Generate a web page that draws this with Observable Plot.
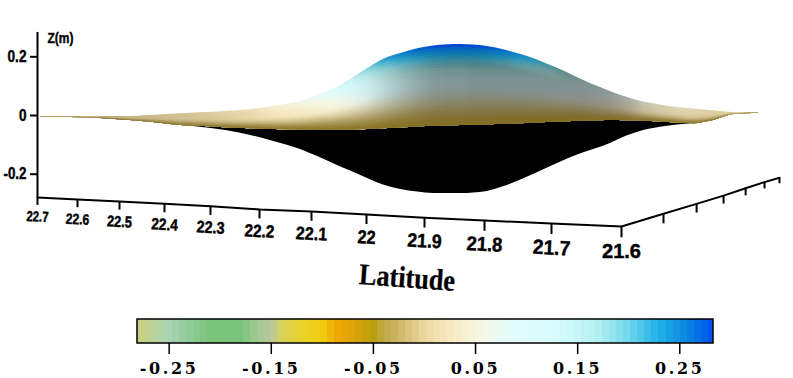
<!DOCTYPE html>
<html>
<head>
<meta charset="utf-8">
<style>
html,body{margin:0;padding:0;background:#fff;width:793px;overflow:hidden}
svg{display:block;background:#fff}
</style>
<script src="https://cdn.jsdelivr.net/npm/d3@7"></script>
<script src="https://cdn.jsdelivr.net/npm/@observablehq/plot@0.6"></script>
</head>
<body>
<div id="chart"></div>
<div id="bar"></div>
<script>
// Latitude ticks and where the perspective puts them
const latTicks = [22.7,22.6,22.5,22.4,22.3,22.2,22.1,22,21.9,21.8,21.7,21.6];
const floorZ  = [-.279,-.286,-.293,-.301,-.309,-.320,-.327,-.337,-.348,-.358,-.368,-.378];
// Depth axis (longitude, unlabelled), in the same projected plane
const depthLat = [21.6,21.4535,21.338,21.244,21.167,21.101,21.049];
const depthZ   = [-.378,-.335,-.301,-.273,-.248,-.227,-.212];
const zTicks = [0.2,0,-0.2];
const zLabels = ["0.2","0","-0.2"];

// Projected surface profile
const surfLat = [22.6925,22.6175,22.545,22.476,22.409,22.365,22.322,22.269,22.218,22.169,22.121,22.089,22.06,22.029,21.998,21.971,21.941,21.912,21.885,21.862,21.84,21.818,21.796,21.773,21.751,21.727,21.701,21.677,21.654,21.63,21.616,21.579,21.523,21.464,21.405,21.349,21.29,21.209,21.122];
const surfTop = [-.003,-.003,-.003,-.003,.002,.006,.009,.014,.020,.032,.048,.068,.090,.123,.160,.191,.211,.227,.237,.241,.242,.240,.235,.225,.211,.194,.170,.146,.119,.095,.082,.061,.046,.036,.027,.022,.017,.010,.009];
const surfFront = [-.005,-.007,-.010,-.017,-.026,-.034,-.037,-.042,-.045,-.048,-.049,-.049,-.049,-.049,-.048,-.045,-.042,-.039,-.036,-.035,-.034,-.033,-.032,-.030,-.028,-.026,-.023,-.021,-.019,-.018,-.017,-.018,-.019,-.022,-.025,-.028,-.020,.003,.008];
const surfBottom = [-.005,-.007,-.010,-.017,-.026,-.034,-.040,-.051,-.068,-.090,-.116,-.140,-.164,-.189,-.215,-.237,-.252,-.261,-.266,-.266,-.266,-.264,-.259,-.244,-.225,-.201,-.174,-.148,-.127,-.108,-.095,-.069,-.051,-.040,-.032,-.028,-.020,.003,.008];
const surfLit = [.84,.84,.84,.85,.86,.88,.9,.93,.96,1,1,1,1,.98,.94,.86,.76,.68,.62,.6,.6,.58,.58,.58,.58,.58,.58,.58,.58,.6,.62,.68,.8,.86,.9,.92,.92,.92,.92];

// Colour bar
const barTicks = [-0.25,-0.15,-0.05,0.05,0.15,0.25];
const barTickLabels = ["-0.25","-0.15","-0.05","0.05","0.15","0.25"];
const barStops = [-.281,-.265,-.25,-.23,-.21,-.18,-.165,-.15,-.14,-.12,-.10,-.085,-.07,-.05,-.04,-.02,0,.03,.06,.09,.13,.17,.2,.23,.26,.283];
const barColors = ["#cdd07c","#bcd29a","#a8d4b4","#90cc98","#7cc47c","#78c47c","#a0c890","#b4c8a0","#d8d060","#e8d428","#f0cc10","#f0a800","#e0a408","#b8a010","#c0a848","#d4bc70","#ecd8a0","#f8ecc8","#f4f8e8","#e0fcfc","#d8fcfc","#b4f0f0","#70d8ec","#20b0e8","#0880e0","#0050f0"];
const palette = d3.scaleLinear().domain(barStops).range(barColors).clamp(true);

const PX = 293.5; // px per metre on the z axis
const sans = "'Liberation Sans',Arial,sans-serif";
const olive = d3.rgb("#86701c");
const idx = surfLat.map((_, i) => i);

// Perspective foreshortening of the latitude axis
const persp = d3.scaleLinear()
  .domain([22.7925, ...latTicks, 21])
  .range([0,37,77,119,164,210,259,311,366,424,484,551,621,793]);

function shade(i, f) {
  const zt = surfTop[i];
  const boost = 1 + .2 * Math.max(0, 1 - f / .35);
  const c = d3.rgb(palette(zt * (1 - f) * boost));
  const w = Math.min(1, Math.max(0, (zt - .15) / .06));
  let L = surfLit[i] + (.9 - surfLit[i]) * w * Math.max(0, 1 - f / .25);
  if (f > .5) L *= 1 - .25 * ((f - .5) / .5) ** 2;
  const span = .55 + .45 * Math.min(1, (zt - surfFront[i]) / .06);
  const m = f > .45 ? ((f - .45) / .55) ** 1.7 * .92 * span : 0;
  return d3.rgb(
    c.r * L * (1 - m) + olive.r * m,
    c.g * L * (1 - m) + olive.g * m,
    c.b * L * (1 - m) + olive.b * m
  ).formatRgb();
}

const bandLevels = d3.range(0, 28).map(k => k / 28);

const gradients = () => {
  const defs = d3.create("svg:defs");
  bandLevels.forEach((f, k) => {
    const g = defs.append("linearGradient")
      .attr("id", "band" + k)
      .attr("gradientUnits", "userSpaceOnUse")
      .attr("x1", 0).attr("x2", 793).attr("y1", 0).attr("y2", 0);
    idx.forEach(i => {
      g.append("stop")
        .attr("offset", persp(surfLat[i]) / 793)
        .attr("stop-color", shade(i, f + .5 / 28));
    });
  });
  return defs.node();
};

// Squeeze condensed axis lettering to the width seen in the picture
const squeeze = width => (index, scales, values, dims, context, next) => {
  const g = next(index, scales, values, dims, context);
  d3.select(g).selectAll("text")
    .attr("textLength", (d, j) => width(index[j]))
    .attr("lengthAdjust", "spacingAndGlyphs");
  return g;
};
const latLabelWidths = i => latTicks[i] === 22 ? 18 : 22 + i * 1.55;
const zLabelWidths = i => [19, 7.5, 23][i];

const chart = Plot.plot({
  width: 793, height: 312,
  marginTop: 0, marginRight: 0, marginBottom: 0, marginLeft: 0,
  x: {axis: null, transform: persp, domain: [0,793], range: [0,793]},
  y: {axis: null, domain: [-.6712,.3918], range: [312,0]},
  marks: [
    gradients,
    // axes
    Plot.ruleX([22.7], {y1: -.279, y2: .283, stroke: "#000", strokeWidth: 2}),
    Plot.ruleY(zTicks, {x1: 22.7175, x2: 22.7, stroke: "#000", strokeWidth: 2}),
    Plot.text(zLabels, {x: 22.7175, y: (d, i) => zTicks[i], text: d => d, textAnchor: "end", dx: -4,
      fontFamily: sans, fontWeight: "bold", fontSize: 16, fill: "#000", stroke: "#000", strokeWidth: .4, render: squeeze(zLabelWidths)}),
    Plot.text(["Z(m)"], {x: 22.675, y: .262, textAnchor: "start", text: d => d,
      fontFamily: sans, fontWeight: "bold", fontSize: 15, fill: "#000", stroke: "#000", strokeWidth: .4, render: squeeze(() => 26)}),
    Plot.line(latTicks, {x: d => d, y: (d, i) => floorZ[i], stroke: "#000", strokeWidth: 2}),
    Plot.ruleX(latTicks, {x: d => d, y1: (d, i) => floorZ[i], y2: (d, i) => floorZ[i] - (8 + i * .3) / PX, stroke: "#000", strokeWidth: 2}),
    Plot.text(latTicks, {x: d => d, y: (d, i) => floorZ[i] - (19.5 + i * .5) / PX, text: d => String(d),
      rotate: (d, i) => i < 11 ? 3 : 0,
      fontSize: (d, i) => 14.5 + i * .6,
      fontFamily: sans, fontWeight: "bold", fill: "#000", stroke: "#000", strokeWidth: .45, render: squeeze(latLabelWidths)}),
    Plot.line(depthLat, {x: d => d, y: (d, i) => depthZ[i], stroke: "#000", strokeWidth: 2}),
    Plot.ruleX(depthLat.slice(1), {x: d => d, y1: (d, i) => depthZ[i + 1], y2: (d, i) => depthZ[i + 1] - (10 - i * .8) / PX, stroke: "#000", strokeWidth: 2}),
    Plot.text(["Latitude"], {x: 21.93, y: -.553, text: d => d, rotate: 4,
      fontFamily: "'Liberation Serif','Times New Roman',serif", fontWeight: "bold", fontSize: 30, fill: "#000", stroke: "#000", strokeWidth: .3, render: squeeze(() => 96)}),
    // surface
    Plot.area(idx, {x1: i => surfLat[i], y1: i => surfFront[i], y2: i => surfBottom[i], fill: "#000", curve: "monotone-x"}),
    ...bandLevels.map((f, k) => Plot.area(idx, {
      x1: i => surfLat[i],
      y1: i => surfTop[i] + (surfFront[i] - surfTop[i]) * f,
      y2: i => surfFront[i],
      fill: "url(#band" + k + ")",
      curve: "monotone-x"
    }))
  ]
});
document.getElementById("chart").append(chart);

const barStep = .0069;
const barValues = d3.range(-.281, .283, barStep);
const bar = Plot.plot({
  width: 793, height: 66,
  marginTop: 0, marginRight: 0, marginBottom: 0, marginLeft: 0,
  style: {letterSpacing: "2.6px"},
  x: {axis: null, domain: [-.281,.283], range: [137,713]},
  y: {axis: null, domain: [0,1], range: [31,7]},
  marks: [
    Plot.rect(barValues, {x1: d => d, x2: d => Math.min(d + barStep, .283), y1: 0, y2: 1, fill: d => palette(d + barStep / 2), shapeRendering: "crispEdges"}),
    Plot.rect([0], {x1: -.281, x2: .283, y1: 0, y2: 1, fill: "none", stroke: "#000", strokeWidth: 1.5}),
    Plot.ruleX(barTicks, {y1: 0, y2: -.46, stroke: "#000", strokeWidth: 1.5}),
    Plot.text(barTickLabels, {x: (d, i) => barTicks[i], y: -.46, dy: 14.5, text: d => d,
      fontFamily: "'DejaVu Serif',serif", fontWeight: "bold", fontSize: 16, fill: "#000"})
  ]
});
document.getElementById("bar").append(bar);
</script>
</body>
</html>
